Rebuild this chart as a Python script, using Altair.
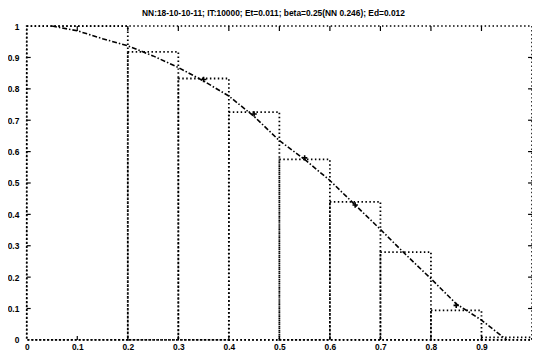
import altair as alt
import pandas as pd

# Histogram bins (dotted outlined bars)
bin_start = [0.0, 0.2, 0.3, 0.4, 0.5, 0.6, 0.7, 0.8, 0.9]
bin_end = [0.2, 0.3, 0.4, 0.5, 0.6, 0.7, 0.8, 0.9, 1.0]
bin_height = [1.0, 0.918, 0.833, 0.726, 0.575, 0.44, 0.28, 0.094, 0.008]

# Network output curve (dash-dot)
curve_x = [0.05, 0.1, 0.15, 0.2, 0.25, 0.3, 0.35, 0.4, 0.45, 0.5, 0.55, 0.6,
           0.65, 0.7, 0.75, 0.8, 0.85, 0.9, 0.95]
curve_y = [1.0, 0.985, 0.96, 0.937, 0.905, 0.868, 0.825, 0.777, 0.712, 0.635,
           0.575, 0.508, 0.43, 0.352, 0.272, 0.195, 0.115, 0.063, 0.0]

# "+" markers
mark_x = [0.35, 0.45, 0.55, 0.65, 0.85]
mark_y = [0.83, 0.72, 0.58, 0.43, 0.11]

x_ticks = [0, 0.1, 0.2, 0.3, 0.4, 0.5, 0.6, 0.7, 0.8, 0.9]
y_ticks = [0, 0.1, 0.2, 0.3, 0.4, 0.5, 0.6, 0.7, 0.8, 0.9, 1]

title_text = "NN:18-10-10-11; IT:10000; Et=0.011; beta=0.25(NN 0.246); Ed=0.012"

W, H = 512, 318
FONT = "Liberation Sans"

bars_df = pd.DataFrame({"x0": bin_start, "x1": bin_end, "h": bin_height})
curve_df = pd.DataFrame({"x": curve_x, "y": curve_y})
marks_df = pd.DataFrame({"x": mark_x, "y": mark_y})
xt_df = pd.DataFrame({"v": x_ticks[1:]})
yt_df = pd.DataFrame({"v": y_ticks[1:-1]})

xscale = alt.Scale(domain=[0, 1.0], nice=False, zero=False)
yscale = alt.Scale(domain=[0, 1.0], nice=False, zero=False)

xaxis = alt.Axis(values=x_ticks, format="~g", title=None, labelPadding=3)
yaxis = alt.Axis(values=y_ticks, format="~g", title=None, labelPadding=8)

bars = alt.Chart(bars_df).mark_bar(
    fill=None, stroke="black", strokeWidth=1.8, strokeDash=[1.5, 2.5]
).encode(
    x=alt.X("x0:Q", scale=xscale, axis=xaxis),
    x2="x1:Q",
    y=alt.Y("h:Q", scale=yscale, axis=yaxis),
    y2=alt.datum(0),
)

curve = alt.Chart(curve_df).mark_line(
    color="black", strokeWidth=1.6, strokeDash=[5, 2, 1.5, 2]
).encode(x=alt.X("x:Q", scale=xscale, axis=xaxis), y=alt.Y("y:Q", scale=yscale, axis=yaxis))

plus = alt.Chart(marks_df).mark_point(
    shape="M-1,0H1M0,-1V1", size=30, filled=False, color="black", strokeWidth=1.6, opacity=1
).encode(x=alt.X("x:Q", scale=xscale, axis=xaxis), y=alt.Y("y:Q", scale=yscale, axis=yaxis))

tick_bottom = alt.Chart(xt_df).mark_rule(color="black", strokeWidth=1.2).encode(
    x=alt.X("v:Q", scale=xscale, axis=xaxis), y=alt.value(H), y2=alt.value(H - 4))
tick_top = alt.Chart(xt_df).mark_rule(color="black", strokeWidth=1.2).encode(
    x=alt.X("v:Q", scale=xscale, axis=xaxis), y=alt.value(0), y2=alt.value(5))
tick_left = alt.Chart(yt_df).mark_rule(color="black", strokeWidth=1.2).encode(
    y=alt.Y("v:Q", scale=yscale, axis=yaxis), x=alt.value(0), x2=alt.value(4))
tick_right = alt.Chart(yt_df).mark_rule(color="black", strokeWidth=1.2).encode(
    y=alt.Y("v:Q", scale=yscale, axis=yaxis), x=alt.value(W), x2=alt.value(W - 4))

chart = alt.layer(bars, curve, plus, tick_bottom, tick_top, tick_left, tick_right).properties(
    width=W, height=H,
    title=alt.TitleParams(title_text, font=FONT, fontSize=8.5, fontWeight="bold",
                          color="black", anchor="middle", offset=5, dx=-6),
    autosize=alt.AutoSizeParams(type="none"),
    padding={"left": 19, "top": 16, "right": 0, "bottom": 14},
    background="white",
).configure_axis(
    domain=False, ticks=False, grid=False, labelFont=FONT, labelFontSize=8.5,
    labelFontWeight="bold", labelColor="black", labelOverlap=False, labelFlush=False
).configure_view(
    stroke="black", strokeWidth=1.6, strokeDash=[1.5, 2.5]
)

chart.save("out.html", embed_options={"renderer": "svg", "actions": False})
